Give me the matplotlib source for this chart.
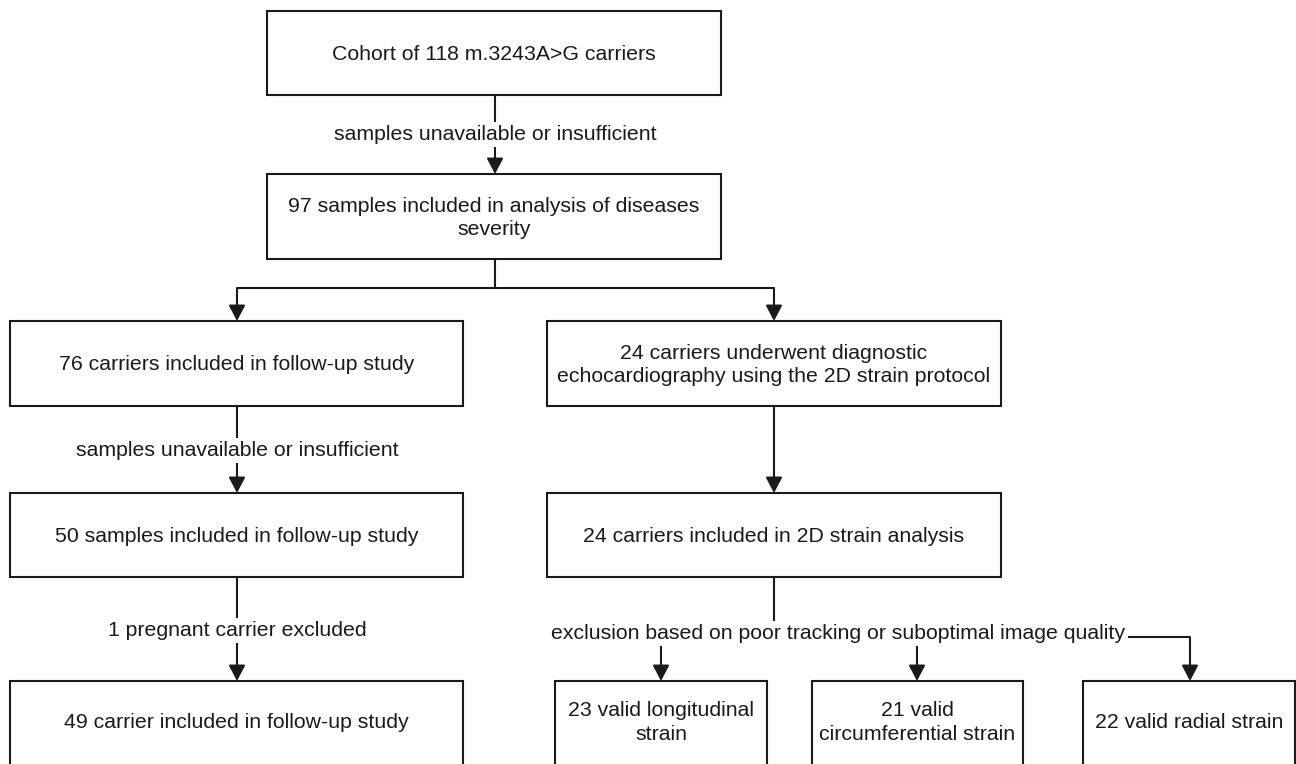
import matplotlib
matplotlib.use("Agg")
import matplotlib.pyplot as plt
import matplotlib.patches as patches

plt.rcParams['font.family'] = ['Liberation Sans', 'DejaVu Sans']

# box texts
box_texts = [
    "Cohort of 118 m.3243A>G carriers",
    "97 samples included in analysis of diseases\nseverity",
    "76 carriers included in follow-up study",
    "24 carriers underwent diagnostic\nechocardiography using the 2D strain protocol",
    "50 samples included in follow-up study",
    "24 carriers included in 2D strain analysis",
    "49 carrier included in follow-up study",
    "23 valid longitudinal\nstrain",
    "21 valid\ncircumferential strain",
    "22 valid radial strain",
]

# edge labels
edge_labels = [
    "samples unavailable or insufficient",
    "samples unavailable or insufficient",
    "1 pregnant carrier excluded",
    "exclusion based on poor tracking or suboptimal image quality",
]

# layout in pixels (x0, y0, x1, y1)
box_pos = [
    (267, 11, 721, 95),
    (267, 174, 721, 259),
    (10, 321, 463, 406),
    (547, 321, 1001, 406),
    (10, 493, 463, 577),
    (547, 493, 1001, 577),
    (10, 681, 463, 800),
    (555, 681, 767, 800),
    (812, 681, 1023, 800),
    (1083, 681, 1295, 800),
]

ink = '#1a1a1a'
lw = 1.5
fs = 15.3
dy = 1.5  # small downward nudge so glyphs sit like the original

fig = plt.figure(figsize=(12.96, 7.64), dpi=100)
ax = fig.add_axes([0, 0, 1, 1])
ax.set_xlim(0, 1296)
ax.set_ylim(764, 0)
ax.axis('off')


def box(pos, text, ty=None):
    x0, y0, x1, y1 = pos
    rect = patches.Rectangle((x0, y0), x1 - x0, y1 - y0, linewidth=lw,
                             edgecolor=ink, facecolor='white', zorder=2)
    ax.add_patch(rect)
    if ty is None:
        ty = (y0 + y1) / 2
    ax.text((x0 + x1) / 2, ty + dy, text, ha='center', va='center', fontsize=fs,
            color=ink, linespacing=1.32, zorder=3)


def line(xs, ys):
    ax.plot(xs, ys, color=ink, linewidth=lw, solid_capstyle='butt',
            solid_joinstyle='miter', zorder=1)


def arrow(x, y0, y1):
    a = patches.FancyArrowPatch((x, y0), (x, y1),
                                arrowstyle='-|>,head_length=9.5,head_width=5',
                                mutation_scale=1, color=ink, linewidth=lw,
                                shrinkA=0, shrinkB=0, zorder=1)
    ax.add_patch(a)


def label(x, y, text):
    ax.text(x, y + dy, text, ha='center', va='center', fontsize=fs, color=ink,
            zorder=4, bbox=dict(facecolor='white', edgecolor='none', pad=2.5))


for i, (pos, t) in enumerate(zip(box_pos, box_texts)):
    ty = None
    if i >= 6:
        ty = 721
    box(pos, t, ty)

# cohort -> 97 samples
arrow(495, 95, 174)
label(495, 133, edge_labels[0])

# split
line([495, 495], [259, 288])
line([237, 774], [288, 288])
arrow(237, 288, 321)
arrow(774, 288, 321)

# left column
arrow(237, 406, 493)
label(237, 449, edge_labels[1])
arrow(237, 577, 681)
label(237, 629, edge_labels[2])

# right column
arrow(774, 406, 493)
line([774, 774], [577, 630])
arrow(661, 632, 681)
arrow(917, 632, 681)
line([1120, 1190], [637, 637])
arrow(1190, 637, 681)
label(838, 632, edge_labels[3])

fig.savefig('out.png', dpi=100)
